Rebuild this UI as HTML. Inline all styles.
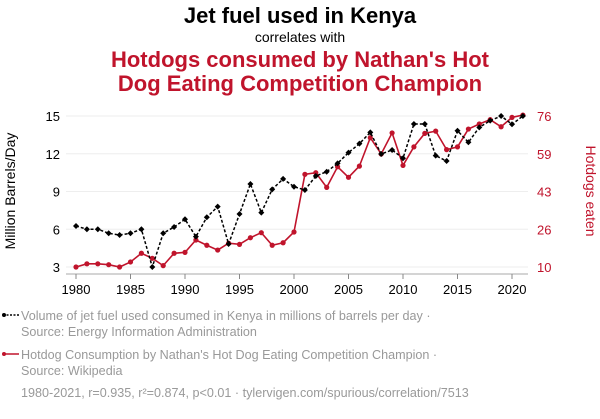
<!DOCTYPE html>
<html><head><meta charset="utf-8"><style>
body{margin:0;background:#fff;width:600px;height:414px;overflow:hidden;font-family:"Liberation Sans",sans-serif}
svg text{font-family:"Liberation Sans",sans-serif}
</style></head><body>
<svg id="c" width="600" height="414">
<text x="300" y="23" text-anchor="middle" font-size="22" font-weight="bold" fill="#000">Jet fuel used in Kenya</text>
<text x="300" y="42" text-anchor="middle" font-size="14" fill="#000">correlates with</text>
<text x="300" y="67" text-anchor="middle" font-size="22" font-weight="bold" fill="#c0142c">Hotdogs consumed by Nathan's Hot</text>
<text x="300" y="91" text-anchor="middle" font-size="22" font-weight="bold" fill="#c0142c">Dog Eating Competition Champion</text>
<text transform="translate(15,191) rotate(-90)" text-anchor="middle" font-size="14" fill="#000">Million Barrels/Day</text>
<text transform="translate(586,191) rotate(90)" text-anchor="middle" font-size="14" fill="#c0142c">Hotdogs eaten</text>
<g id="grid"></g><g id="axes"></g><g id="series"></g>
<g>
<line x1="3" y1="315" x2="19" y2="315" stroke="#000" stroke-width="1.5" stroke-dasharray="2,1.5"/><circle cx="4" cy="315" r="2" fill="#000"/>
<text x="21" y="320" font-size="12.6" fill="#999">Volume of jet fuel used consumed in Kenya in millions of barrels per day ·</text>
<text x="21" y="336" font-size="12.6" fill="#999">Source: Energy Information Administration</text></g>
<g>
<line x1="3" y1="354" x2="19" y2="354" stroke="#c0142c" stroke-width="1.5"/><circle cx="4" cy="354" r="2" fill="#c0142c"/>
<text x="21" y="359" font-size="12.6" fill="#999">Hotdog Consumption by Nathan's Hot Dog Eating Competition Champion ·</text>
<text x="21" y="375" font-size="12.6" fill="#999">Source: Wikipedia</text></g>
<text x="21" y="397" font-size="12.6" fill="#999">1980-2021, r=0.935, r²=0.874, p&lt;0.01 · tylervigen.com/spurious/correlation/7513</text>
</svg>
<script>
const years=[1980,1981,1982,1983,1984,1985,1986,1987,1988,1989,1990,1991,1992,1993,1994,1995,1996,1997,1998,1999,2000,2001,2002,2003,2004,2005,2006,2007,2008,2009,2010,2011,2012,2013,2014,2015,2016,2017,2018,2019,2020,2021];
const jetFuel=[6.26,6.0,6.0,5.68,5.54,5.68,6.0,3.0,5.68,6.18,6.79,5.41,6.95,7.8,4.83,7.21,9.6,7.32,9.17,10.0,9.38,9.12,10.23,10.57,11.24,12.09,12.8,13.7,11.98,12.3,11.64,14.36,14.36,11.85,11.42,13.83,12.91,14.1,14.63,15.0,14.34,15.0];
const hotdogs=[10,11.4,11.4,11.0,10,12.2,16,13.8,10.6,16,16.4,21.8,19.5,17.4,20.4,19.9,22.8,25,19.5,20.6,25.3,50.5,51.2,44.8,53.8,49.2,54.1,66.5,59.4,68.6,54.4,62.5,68.4,69.4,61.3,62.5,70.3,72.5,74.4,71.3,75.4,76.4];
const leftTicks=[3,6,9,12,15];
const rightTicks=[10,26,43,59,76];
const xTicks=[1980,1985,1990,1995,2000,2005,2010,2015,2020];
const NS="http://www.w3.org/2000/svg";
const x=y=>76+(y-1980)*10.9;
const yL=v=>267-(v-3)*151/12;
const yR=v=>267-(v-10)*151/66;
function mk(t,a,p){const e=document.createElementNS(NS,t);for(const k in a)e.setAttribute(k,a[k]);p.appendChild(e);return e;}
const grid=document.getElementById('grid'),axes=document.getElementById('axes'),ser=document.getElementById('series');
leftTicks.forEach((t,i)=>{
 const g=mk('line',{x1:66,x2:528,y1:yL(t),y2:yL(t),stroke:'#eee','stroke-width':1},grid);
 
 
 const l=mk('text',{x:60,y:yL(t)+5,'text-anchor':'end','font-size':13,fill:'#000'},axes);l.textContent=t;
 
 
 const r=mk('text',{x:537,y:yL(t)+5,'font-size':13,fill:'#c0142c'},axes);r.textContent=rightTicks[i];
 
 
});
const ax=mk('line',{x1:66,x2:528,y1:274,y2:274,stroke:'#aaa','stroke-width':1},axes);


xTicks.forEach(t=>{
 const tk=mk('line',{x1:x(t),x2:x(t),y1:274,y2:279,stroke:'#888','stroke-width':1},axes);
 
 
 const l=mk('text',{x:x(t),y:294,'text-anchor':'middle','font-size':13,fill:'#000'},axes);l.textContent=t;
 
 
});
const rp=mk('polyline',{points:years.map((y,i)=>x(y)+','+yR(hotdogs[i])).join(' '),fill:'none',stroke:'#c0142c','stroke-width':1.6},ser);


years.forEach((y,i)=>{const c=mk('circle',{cx:x(y),cy:yR(hotdogs[i]),r:2.6,fill:'#c0142c'},ser);
 
 });
const bp=mk('polyline',{points:years.map((y,i)=>x(y)+','+yL(jetFuel[i])).join(' '),fill:'none',stroke:'#000','stroke-width':1.5,'stroke-dasharray':'3,2'},ser);


years.forEach((y,i)=>{const cx=x(y),cy=yL(jetFuel[i]);const d=mk('polygon',{points:`${cx},${cy-3} ${cx+3},${cy} ${cx},${cy+3} ${cx-3},${cy}`,fill:'#000'},ser);
 
 });
</script>
</body></html>
